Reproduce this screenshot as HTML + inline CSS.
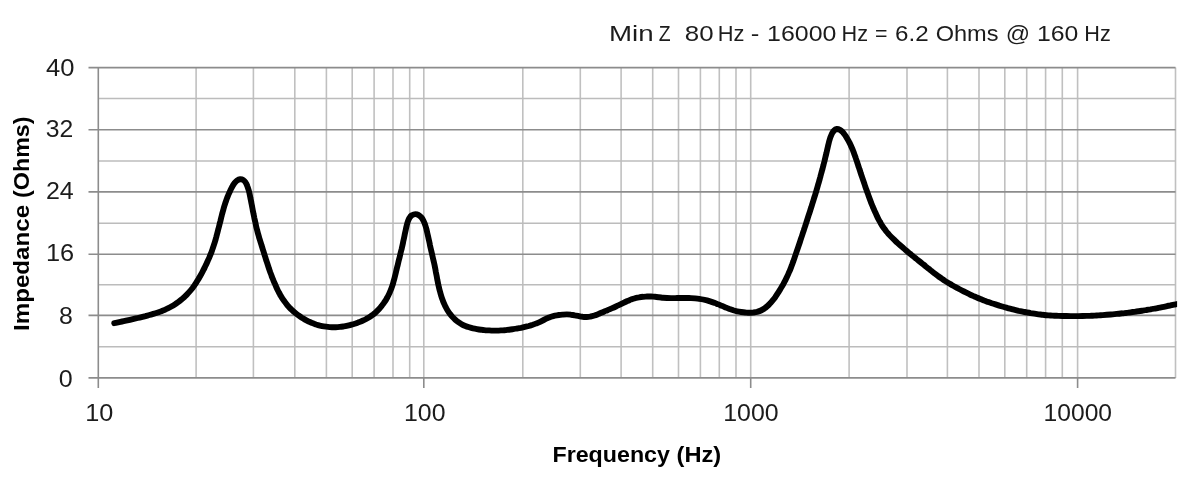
<!DOCTYPE html>
<html lang="en"><head><meta charset="utf-8"><title>Impedance</title>
<style>html,body{margin:0;padding:0;background:#fff}svg{display:block;filter:blur(0.55px)}</style></head>
<body>
<svg width="1204" height="493" viewBox="0 0 1204 493">
<rect width="1204" height="493" fill="#fff"/>
<g stroke="#c0c0c0" stroke-width="1.6" fill="none">
<line x1="196.1" y1="67.5" x2="196.1" y2="378.0"/>
<line x1="253.4" y1="67.5" x2="253.4" y2="378.0"/>
<line x1="294.8" y1="67.5" x2="294.8" y2="378.0"/>
<line x1="326.4" y1="67.5" x2="326.4" y2="378.0"/>
<line x1="352.2" y1="67.5" x2="352.2" y2="378.0"/>
<line x1="374.1" y1="67.5" x2="374.1" y2="378.0"/>
<line x1="393.0" y1="67.5" x2="393.0" y2="378.0"/>
<line x1="409.7" y1="67.5" x2="409.7" y2="378.0"/>
<line x1="423.8" y1="67.5" x2="423.8" y2="378.0"/>
<line x1="522.8" y1="67.5" x2="522.8" y2="378.0"/>
<line x1="580.3" y1="67.5" x2="580.3" y2="378.0"/>
<line x1="621.1" y1="67.5" x2="621.1" y2="378.0"/>
<line x1="652.7" y1="67.5" x2="652.7" y2="378.0"/>
<line x1="678.5" y1="67.5" x2="678.5" y2="378.0"/>
<line x1="700.4" y1="67.5" x2="700.4" y2="378.0"/>
<line x1="719.3" y1="67.5" x2="719.3" y2="378.0"/>
<line x1="736.0" y1="67.5" x2="736.0" y2="378.0"/>
<line x1="750.7" y1="67.5" x2="750.7" y2="378.0"/>
<line x1="849.1" y1="67.5" x2="849.1" y2="378.0"/>
<line x1="907.0" y1="67.5" x2="907.0" y2="378.0"/>
<line x1="947.4" y1="67.5" x2="947.4" y2="378.0"/>
<line x1="979.0" y1="67.5" x2="979.0" y2="378.0"/>
<line x1="1004.8" y1="67.5" x2="1004.8" y2="378.0"/>
<line x1="1026.7" y1="67.5" x2="1026.7" y2="378.0"/>
<line x1="1045.6" y1="67.5" x2="1045.6" y2="378.0"/>
<line x1="1062.3" y1="67.5" x2="1062.3" y2="378.0"/>
<line x1="1077.6" y1="67.5" x2="1077.6" y2="378.0"/>
<line x1="1175.5" y1="67.5" x2="1175.5" y2="378.0"/>
</g>
<g stroke="#bcbcbc" stroke-width="1.5" fill="none">
<line x1="98.3" y1="346.8" x2="1175.5" y2="346.8"/>
<line x1="98.3" y1="284.7" x2="1175.5" y2="284.7"/>
<line x1="98.3" y1="223.3" x2="1175.5" y2="223.3"/>
<line x1="98.3" y1="160.9" x2="1175.5" y2="160.9"/>
<line x1="98.3" y1="98.5" x2="1175.5" y2="98.5"/>
</g>
<g stroke="#8c8c8c" stroke-width="1.6" fill="none">
<line x1="88.5" y1="377.9" x2="1175.5" y2="377.9"/>
<line x1="88.5" y1="315.4" x2="1175.5" y2="315.4"/>
<line x1="88.5" y1="254.3" x2="1175.5" y2="254.3"/>
<line x1="88.5" y1="191.9" x2="1175.5" y2="191.9"/>
<line x1="88.5" y1="129.7" x2="1175.5" y2="129.7"/>
<line x1="88.5" y1="67.6" x2="1175.5" y2="67.6"/>
<line x1="98.3" y1="67.5" x2="98.3" y2="388.0"/>
<line x1="423.8" y1="378.0" x2="423.8" y2="388.0"/>
<line x1="750.7" y1="378.0" x2="750.7" y2="388.0"/>
<line x1="1077.6" y1="378.0" x2="1077.6" y2="388.0"/>
</g>
<clipPath id="pc"><rect x="98.3" y="62.5" width="1078.8" height="320.5"/></clipPath>
<path clip-path="url(#pc)" d="M114.2 323.2C114.9 323.1 116.8 322.7 118.1 322.4C119.4 322.1 120.7 321.8 122.1 321.5C123.4 321.3 124.7 321.0 126.0 320.7C127.3 320.4 128.6 320.1 129.9 319.8C131.2 319.5 132.5 319.2 133.8 318.9C135.1 318.6 136.4 318.3 137.7 318.0C139.0 317.7 140.3 317.4 141.6 317.1C142.9 316.8 144.2 316.4 145.5 316.1C146.8 315.7 148.1 315.4 149.4 315.0C150.7 314.7 152.0 314.3 153.3 313.9C154.6 313.5 155.9 313.1 157.1 312.7C158.4 312.3 159.7 311.9 160.9 311.4C162.2 310.9 163.4 310.4 164.6 309.9C165.9 309.4 167.1 308.8 168.3 308.2C169.5 307.6 170.6 307.0 171.8 306.3C173.0 305.6 174.1 304.9 175.2 304.2C176.3 303.4 177.4 302.7 178.5 301.9C179.6 301.1 180.6 300.2 181.7 299.4C182.7 298.5 183.7 297.6 184.7 296.7C185.6 295.8 186.6 294.8 187.5 293.9C188.4 292.9 189.3 291.9 190.2 290.9C191.1 289.9 191.9 288.8 192.7 287.8C193.5 286.7 194.3 285.6 195.0 284.5C195.8 283.4 196.5 282.3 197.2 281.1C198.0 280.0 198.6 278.8 199.3 277.7C200.0 276.5 200.6 275.3 201.3 274.2C201.9 273.0 202.5 271.8 203.1 270.6C203.8 269.4 204.4 268.2 204.9 267.0C205.5 265.8 206.1 264.6 206.7 263.4C207.2 262.2 207.8 260.9 208.3 259.7C208.9 258.5 209.4 257.3 209.9 256.0C210.4 254.8 210.9 253.5 211.4 252.3C211.8 251.0 212.3 249.8 212.7 248.5C213.2 247.3 213.6 246.0 214.0 244.7C214.4 243.4 214.8 242.2 215.2 240.9C215.6 239.6 215.9 238.3 216.3 237.0C216.6 235.7 217.0 234.4 217.3 233.1C217.7 231.8 218.0 230.5 218.3 229.2C218.7 227.9 219.0 226.6 219.3 225.4C219.6 224.1 219.9 222.7 220.3 221.5C220.6 220.2 220.9 218.9 221.2 217.6C221.5 216.3 221.9 215.0 222.2 213.7C222.6 212.4 222.9 211.1 223.3 209.8C223.6 208.5 224.0 207.2 224.4 205.9C224.8 204.7 225.2 203.4 225.6 202.1C226.1 200.8 226.5 199.6 227.0 198.3C227.5 197.0 228.0 195.8 228.5 194.5C229.0 193.2 229.6 192.0 230.2 190.7C230.8 189.5 231.4 188.2 232.1 187.0C232.7 185.8 233.4 184.6 234.2 183.5C235.0 182.5 235.9 181.3 236.9 180.6C237.9 179.9 239.0 179.3 240.1 179.2C241.1 179.1 242.3 179.4 243.3 180.0C244.2 180.5 245.0 181.5 245.7 182.6C246.4 183.6 246.9 185.0 247.4 186.3C247.9 187.5 248.3 188.9 248.7 190.3C249.1 191.6 249.4 193.0 249.7 194.4C250.0 195.8 250.3 197.1 250.5 198.5C250.8 199.8 251.1 201.2 251.3 202.5C251.6 203.8 251.8 205.2 252.1 206.5C252.3 207.8 252.6 209.1 252.8 210.5C253.1 211.8 253.4 213.1 253.6 214.4C253.9 215.7 254.2 217.0 254.4 218.3C254.7 219.6 255.0 220.9 255.3 222.2C255.6 223.5 255.8 224.8 256.1 226.1C256.4 227.5 256.8 228.8 257.1 230.0C257.4 231.3 257.7 232.6 258.1 233.9C258.5 235.2 258.8 236.5 259.2 237.8C259.6 239.1 260.0 240.3 260.4 241.6C260.8 242.9 261.2 244.2 261.6 245.5C262.0 246.7 262.4 248.0 262.8 249.3C263.2 250.6 263.6 251.8 264.0 253.1C264.4 254.4 264.8 255.7 265.2 256.9C265.6 258.2 266.0 259.5 266.4 260.8C266.8 262.0 267.2 263.3 267.7 264.6C268.1 265.9 268.5 267.1 268.9 268.4C269.4 269.7 269.8 270.9 270.2 272.2C270.7 273.5 271.2 274.7 271.6 276.0C272.1 277.2 272.6 278.5 273.1 279.7C273.6 280.9 274.1 282.2 274.7 283.4C275.2 284.6 275.7 285.9 276.3 287.1C276.9 288.3 277.4 289.5 278.0 290.7C278.6 291.9 279.3 293.1 279.9 294.3C280.6 295.4 281.2 296.6 281.9 297.7C282.6 298.9 283.4 300.0 284.2 301.1C284.9 302.1 285.7 303.2 286.6 304.2C287.4 305.3 288.3 306.3 289.2 307.3C290.1 308.2 291.1 309.2 292.1 310.1C293.0 311.0 294.0 311.9 295.1 312.8C296.1 313.6 297.2 314.4 298.2 315.2C299.3 316.0 300.4 316.8 301.5 317.5C302.7 318.2 303.8 318.9 305.0 319.6C306.2 320.3 307.3 320.9 308.6 321.5C309.8 322.0 311.0 322.6 312.2 323.1C313.5 323.6 314.7 324.0 316.0 324.5C317.3 324.9 318.6 325.2 319.9 325.6C321.2 325.9 322.5 326.2 323.8 326.4C325.1 326.6 326.4 326.8 327.8 326.9C329.1 327.1 330.4 327.2 331.8 327.2C333.1 327.3 334.4 327.3 335.8 327.2C337.1 327.2 338.4 327.1 339.8 326.9C341.1 326.8 342.4 326.6 343.8 326.4C345.1 326.2 346.4 325.9 347.7 325.6C349.0 325.3 350.3 325.0 351.6 324.6C352.9 324.3 354.2 323.9 355.5 323.5C356.7 323.0 358.0 322.6 359.3 322.1C360.5 321.6 361.7 321.1 363.0 320.5C364.2 320.0 365.4 319.4 366.6 318.7C367.7 318.1 368.9 317.4 370.0 316.7C371.1 316.0 372.2 315.2 373.3 314.4C374.3 313.6 375.4 312.7 376.3 311.8C377.3 310.9 378.2 310.0 379.1 309.0C380.0 308.0 380.9 306.9 381.7 305.9C382.5 304.8 383.3 303.8 384.1 302.6C384.9 301.5 385.6 300.4 386.3 299.3C386.9 298.1 387.6 296.9 388.2 295.7C388.8 294.5 389.4 293.3 389.9 292.1C390.4 290.9 390.9 289.6 391.4 288.4C391.8 287.1 392.3 285.9 392.7 284.6C393.1 283.3 393.4 282.0 393.8 280.7C394.2 279.4 394.5 278.1 394.8 276.8C395.2 275.5 395.5 274.2 395.8 272.9C396.1 271.6 396.4 270.3 396.7 269.0C397.0 267.7 397.3 266.4 397.7 265.1C398.0 263.8 398.3 262.5 398.6 261.2C398.9 259.9 399.2 258.6 399.6 257.3C399.9 256.0 400.2 254.7 400.5 253.4C400.8 252.1 401.1 250.8 401.5 249.5C401.8 248.2 402.1 246.9 402.4 245.6C402.7 244.3 403.0 243.0 403.2 241.7C403.5 240.4 403.8 239.1 404.1 237.7C404.4 236.4 404.6 235.1 404.9 233.7C405.2 232.4 405.5 231.0 405.8 229.7C406.0 228.3 406.3 227.0 406.7 225.6C407.0 224.3 407.4 222.9 407.8 221.6C408.3 220.4 408.8 219.1 409.4 218.0C410.1 216.9 411.0 215.9 411.9 215.2C412.9 214.6 414.1 214.1 415.3 214.1C416.4 214.1 417.7 214.5 418.7 215.1C419.8 215.7 420.8 216.7 421.6 217.7C422.4 218.7 423.1 220.0 423.7 221.2C424.3 222.4 424.7 223.7 425.2 225.0C425.6 226.3 426.0 227.6 426.4 229.0C426.7 230.3 427.0 231.6 427.3 233.0C427.6 234.3 427.9 235.6 428.2 236.9C428.5 238.3 428.8 239.6 429.1 240.9C429.4 242.2 429.7 243.5 429.9 244.8C430.2 246.2 430.5 247.5 430.8 248.8C431.1 250.1 431.4 251.4 431.7 252.7C432.0 254.0 432.3 255.3 432.6 256.6C432.9 257.9 433.2 259.2 433.5 260.5C433.8 261.8 434.1 263.1 434.4 264.4C434.7 265.7 434.9 267.0 435.2 268.3C435.4 269.6 435.7 271.0 435.9 272.3C436.2 273.6 436.4 274.9 436.7 276.2C436.9 277.5 437.2 278.9 437.4 280.2C437.7 281.5 437.9 282.8 438.2 284.1C438.5 285.4 438.8 286.7 439.1 288.0C439.4 289.3 439.7 290.7 440.1 291.9C440.4 293.2 440.8 294.5 441.2 295.8C441.6 297.1 442.0 298.4 442.5 299.6C442.9 300.9 443.4 302.1 444.0 303.4C444.5 304.6 445.0 305.8 445.7 307.0C446.3 308.2 446.9 309.4 447.6 310.5C448.3 311.6 449.1 312.8 449.9 313.8C450.7 314.9 451.5 315.9 452.4 316.9C453.3 317.9 454.3 318.8 455.3 319.7C456.3 320.6 457.3 321.4 458.4 322.2C459.5 323.0 460.6 323.7 461.8 324.3C462.9 324.9 464.2 325.5 465.4 326.0C466.6 326.5 467.9 326.9 469.2 327.3C470.4 327.7 471.7 328.1 473.0 328.4C474.4 328.7 475.7 328.9 477.0 329.1C478.3 329.4 479.7 329.6 481.0 329.7C482.3 329.9 483.7 330.0 485.0 330.2C486.3 330.3 487.7 330.4 489.0 330.4C490.4 330.5 491.7 330.6 493.0 330.6C494.4 330.6 495.7 330.6 497.1 330.6C498.4 330.6 499.7 330.5 501.1 330.4C502.4 330.4 503.7 330.3 505.1 330.2C506.4 330.0 507.7 329.9 509.1 329.7C510.4 329.6 511.7 329.4 513.1 329.2C514.4 329.0 515.7 328.8 517.0 328.5C518.4 328.3 519.7 328.0 521.0 327.8C522.3 327.5 523.6 327.2 524.9 326.9C526.2 326.6 527.5 326.3 528.8 326.0C530.1 325.6 531.4 325.2 532.7 324.8C533.9 324.4 535.2 323.9 536.4 323.4C537.7 322.9 538.9 322.4 540.1 321.8C541.3 321.2 542.5 320.6 543.7 320.0C544.9 319.4 546.1 318.8 547.3 318.2C548.5 317.7 549.8 317.1 551.0 316.7C552.3 316.3 553.6 315.9 554.9 315.6C556.2 315.4 557.5 315.2 558.8 315.0C560.1 314.8 561.5 314.7 562.8 314.6C564.2 314.5 565.5 314.4 566.8 314.4C568.2 314.4 569.5 314.5 570.8 314.7C572.2 314.8 573.5 315.0 574.8 315.3C576.1 315.5 577.4 315.8 578.8 316.1C580.1 316.4 581.4 316.7 582.7 316.8C584.0 317.0 585.4 317.1 586.7 317.0C588.0 317.0 589.3 316.8 590.6 316.5C591.9 316.3 593.2 315.9 594.5 315.5C595.8 315.1 597.0 314.6 598.3 314.1C599.5 313.6 600.8 313.0 602.0 312.5C603.2 312.0 604.5 311.4 605.7 310.9C606.9 310.4 608.2 309.9 609.4 309.4C610.6 308.8 611.9 308.3 613.1 307.8C614.3 307.2 615.5 306.7 616.7 306.1C618.0 305.6 619.2 305.0 620.4 304.4C621.6 303.8 622.8 303.2 624.0 302.6C625.2 302.0 626.4 301.5 627.6 300.9C628.8 300.4 630.1 299.9 631.3 299.4C632.6 299.0 633.9 298.6 635.2 298.2C636.5 297.9 637.8 297.6 639.1 297.4C640.4 297.1 641.7 296.9 643.1 296.8C644.4 296.6 645.7 296.6 647.1 296.5C648.4 296.5 649.7 296.5 651.1 296.5C652.4 296.6 653.8 296.7 655.1 296.8C656.4 296.9 657.7 297.1 659.1 297.3C660.4 297.4 661.7 297.6 663.1 297.7C664.4 297.8 665.7 297.9 667.1 298.0C668.4 298.1 669.7 298.1 671.1 298.1C672.4 298.1 673.8 298.1 675.1 298.1C676.4 298.1 677.8 298.0 679.1 298.0C680.4 298.0 681.8 298.0 683.1 298.0C684.5 298.0 685.8 298.0 687.1 298.0C688.5 298.0 689.8 298.1 691.2 298.1C692.5 298.2 693.8 298.3 695.2 298.4C696.5 298.5 697.8 298.6 699.2 298.8C700.5 299.0 701.8 299.2 703.1 299.5C704.4 299.8 705.7 300.1 707.0 300.4C708.3 300.8 709.6 301.2 710.9 301.6C712.1 302.0 713.4 302.5 714.7 302.9C715.9 303.4 717.2 303.9 718.4 304.4C719.6 304.9 720.9 305.4 722.1 305.9C723.3 306.5 724.6 307.0 725.8 307.5C727.1 308.0 728.3 308.5 729.5 309.0C730.8 309.4 732.1 309.9 733.3 310.3C734.6 310.7 735.9 311.0 737.2 311.3C738.5 311.6 739.8 311.8 741.2 312.0C742.5 312.2 743.8 312.4 745.2 312.5C746.5 312.6 747.8 312.8 749.2 312.8C750.5 312.8 751.9 312.7 753.2 312.6C754.5 312.4 755.9 312.2 757.1 311.9C758.4 311.5 759.7 311.1 760.9 310.5C762.1 309.9 763.3 309.3 764.4 308.5C765.5 307.8 766.5 306.9 767.5 306.0C768.5 305.1 769.4 304.1 770.3 303.2C771.2 302.2 772.1 301.1 772.9 300.1C773.8 299.0 774.6 298.0 775.4 296.9C776.1 295.8 776.9 294.7 777.6 293.5C778.4 292.4 779.1 291.3 779.8 290.1C780.5 289.0 781.2 287.8 781.8 286.7C782.5 285.5 783.2 284.4 783.8 283.2C784.4 282.0 785.1 280.8 785.7 279.6C786.3 278.4 786.8 277.2 787.4 276.0C788.0 274.8 788.5 273.6 789.0 272.3C789.6 271.1 790.1 269.9 790.6 268.6C791.1 267.4 791.5 266.1 792.0 264.9C792.5 263.6 792.9 262.4 793.4 261.1C793.8 259.8 794.3 258.6 794.7 257.3C795.1 256.1 795.6 254.8 796.0 253.5C796.4 252.3 796.9 251.0 797.3 249.7C797.7 248.5 798.2 247.2 798.6 245.9C799.0 244.6 799.4 243.4 799.9 242.1C800.3 240.8 800.7 239.6 801.1 238.3C801.6 237.0 802.0 235.8 802.4 234.5C802.8 233.2 803.2 231.9 803.7 230.7C804.1 229.4 804.5 228.1 804.9 226.9C805.3 225.6 805.8 224.3 806.2 223.0C806.6 221.8 807.0 220.5 807.4 219.2C807.8 218.0 808.2 216.7 808.6 215.4C809.0 214.1 809.4 212.9 809.9 211.6C810.3 210.3 810.7 209.0 811.1 207.8C811.5 206.5 811.9 205.2 812.3 203.9C812.7 202.7 813.1 201.4 813.5 200.1C813.9 198.8 814.3 197.5 814.7 196.3C815.1 195.0 815.5 193.7 815.9 192.4C816.3 191.1 816.6 189.9 817.0 188.6C817.4 187.3 817.8 186.0 818.1 184.7C818.5 183.4 818.9 182.2 819.2 180.9C819.6 179.6 819.9 178.3 820.3 177.0C820.6 175.7 821.0 174.4 821.3 173.1C821.7 171.8 822.0 170.5 822.4 169.3C822.7 168.0 823.0 166.7 823.4 165.4C823.7 164.1 824.0 162.8 824.4 161.5C824.7 160.2 825.0 158.9 825.3 157.6C825.6 156.3 825.9 155.0 826.3 153.6C826.6 152.3 826.9 151.0 827.2 149.6C827.5 148.3 827.8 147.0 828.1 145.6C828.5 144.2 828.8 142.9 829.1 141.5C829.5 140.2 829.9 138.8 830.3 137.5C830.8 136.2 831.3 134.9 831.9 133.7C832.5 132.6 833.2 131.4 834.0 130.6C834.8 129.8 835.9 129.2 836.9 129.0C837.9 128.9 839.0 129.3 840.0 129.8C841.1 130.4 842.0 131.3 842.9 132.3C843.8 133.3 844.6 134.5 845.4 135.6C846.2 136.8 846.9 138.0 847.6 139.2C848.3 140.4 849.0 141.6 849.6 142.9C850.2 144.1 850.8 145.3 851.3 146.6C851.9 147.8 852.4 149.1 852.9 150.3C853.4 151.6 853.9 152.8 854.3 154.1C854.8 155.3 855.3 156.6 855.7 157.9C856.1 159.1 856.5 160.4 857.0 161.7C857.4 162.9 857.8 164.2 858.2 165.5C858.6 166.7 859.1 168.0 859.5 169.3C859.9 170.5 860.3 171.8 860.7 173.1C861.2 174.4 861.6 175.6 862.0 176.9C862.4 178.2 862.9 179.4 863.3 180.7C863.7 182.0 864.2 183.2 864.6 184.5C865.0 185.8 865.5 187.0 865.9 188.3C866.4 189.5 866.8 190.8 867.3 192.1C867.7 193.3 868.2 194.6 868.6 195.9C869.1 197.1 869.5 198.4 870.0 199.6C870.5 200.9 870.9 202.1 871.4 203.4C871.9 204.6 872.4 205.9 872.9 207.1C873.5 208.3 874.0 209.6 874.5 210.8C875.1 212.0 875.6 213.2 876.2 214.4C876.8 215.7 877.3 216.9 877.9 218.1C878.5 219.3 879.2 220.5 879.8 221.6C880.5 222.8 881.1 224.0 881.8 225.1C882.5 226.2 883.3 227.3 884.1 228.4C884.8 229.5 885.7 230.6 886.5 231.6C887.4 232.6 888.2 233.6 889.1 234.6C890.0 235.6 891.0 236.6 891.9 237.5C892.9 238.5 893.8 239.4 894.8 240.3C895.8 241.3 896.7 242.2 897.7 243.1C898.7 244.0 899.7 244.9 900.7 245.8C901.7 246.7 902.7 247.5 903.7 248.4C904.7 249.3 905.8 250.1 906.8 251.0C907.8 251.9 908.8 252.7 909.9 253.6C910.9 254.4 911.9 255.3 913.0 256.1C914.0 257.0 915.1 257.8 916.1 258.6C917.1 259.5 918.2 260.3 919.2 261.1C920.3 262.0 921.3 262.8 922.4 263.7C923.4 264.5 924.5 265.3 925.5 266.2C926.5 267.0 927.6 267.9 928.6 268.7C929.7 269.5 930.7 270.4 931.8 271.2C932.8 272.0 933.9 272.9 934.9 273.7C936.0 274.5 937.1 275.3 938.2 276.1C939.2 276.9 940.3 277.6 941.4 278.4C942.5 279.2 943.6 279.9 944.7 280.7C945.9 281.4 947.0 282.1 948.1 282.8C949.3 283.5 950.4 284.2 951.6 284.9C952.7 285.5 953.9 286.2 955.1 286.8C956.2 287.5 957.4 288.1 958.6 288.7C959.8 289.4 961.0 290.0 962.2 290.6C963.4 291.2 964.6 291.8 965.8 292.4C967.0 293.0 968.2 293.6 969.4 294.2C970.6 294.7 971.8 295.3 973.0 295.9C974.2 296.4 975.4 297.0 976.7 297.5C977.9 298.0 979.1 298.5 980.4 299.0C981.6 299.5 982.9 300.0 984.1 300.5C985.4 301.0 986.6 301.4 987.9 301.9C989.2 302.3 990.4 302.7 991.7 303.2C993.0 303.6 994.2 304.0 995.5 304.4C996.8 304.8 998.1 305.2 999.3 305.6C1000.6 306.0 1001.9 306.4 1003.2 306.8C1004.5 307.2 1005.8 307.5 1007.1 307.9C1008.3 308.2 1009.6 308.6 1010.9 308.9C1012.2 309.2 1013.5 309.6 1014.8 309.9C1016.1 310.2 1017.4 310.5 1018.7 310.8C1020.1 311.0 1021.4 311.3 1022.7 311.6C1024.0 311.9 1025.3 312.1 1026.6 312.4C1027.9 312.6 1029.3 312.8 1030.6 313.1C1031.9 313.3 1033.2 313.5 1034.5 313.7C1035.9 313.9 1037.2 314.1 1038.5 314.3C1039.8 314.5 1041.2 314.6 1042.5 314.8C1043.8 314.9 1045.2 315.1 1046.5 315.2C1047.8 315.3 1049.2 315.4 1050.5 315.5C1051.8 315.6 1053.2 315.6 1054.5 315.7C1055.8 315.8 1057.2 315.8 1058.5 315.9C1059.8 315.9 1061.2 315.9 1062.5 316.0C1063.9 316.0 1065.2 316.0 1066.5 316.0C1067.9 316.1 1069.2 316.1 1070.6 316.1C1071.9 316.1 1073.2 316.1 1074.6 316.1C1075.9 316.1 1077.2 316.1 1078.6 316.1C1079.9 316.1 1081.3 316.1 1082.6 316.0C1083.9 316.0 1085.3 316.0 1086.6 315.9C1088.0 315.9 1089.3 315.8 1090.6 315.8C1092.0 315.7 1093.3 315.7 1094.6 315.6C1096.0 315.5 1097.3 315.5 1098.6 315.4C1100.0 315.3 1101.3 315.2 1102.7 315.1C1104.0 315.0 1105.3 314.9 1106.7 314.8C1108.0 314.7 1109.3 314.6 1110.7 314.5C1112.0 314.4 1113.3 314.2 1114.7 314.1C1116.0 314.0 1117.3 313.8 1118.7 313.7C1120.0 313.6 1121.3 313.4 1122.6 313.3C1124.0 313.1 1125.3 313.0 1126.6 312.8C1128.0 312.6 1129.3 312.5 1130.6 312.3C1131.9 312.1 1133.3 312.0 1134.6 311.8C1135.9 311.6 1137.3 311.4 1138.6 311.2C1139.9 311.1 1141.2 310.9 1142.6 310.7C1143.9 310.5 1145.2 310.3 1146.5 310.0C1147.8 309.8 1149.2 309.6 1150.5 309.4C1151.8 309.1 1153.1 308.9 1154.4 308.7C1155.7 308.4 1157.1 308.2 1158.4 307.9C1159.7 307.7 1161.0 307.4 1162.3 307.1C1163.6 306.9 1164.9 306.6 1166.2 306.3C1167.5 306.0 1168.9 305.7 1170.2 305.5C1171.5 305.2 1172.8 304.9 1174.1 304.6C1175.4 304.3 1177.4 303.9 1178.0 303.7" fill="none" stroke="#000" stroke-width="5.9" stroke-linejoin="round" stroke-linecap="round"/>
<g font-family="'Liberation Sans', sans-serif" font-size="23.4" fill="#1c1c1c">
<text x="608.95" y="41.0" font-size="22.7" textLength="44.64" lengthAdjust="spacingAndGlyphs">Min</text>
<text x="658.82" y="41.0" font-size="22.7" textLength="11.86" lengthAdjust="spacingAndGlyphs">Z</text>
<text x="684.89" y="41.0" font-size="22.7" textLength="28.82" lengthAdjust="spacingAndGlyphs">80</text>
<text x="717.83" y="41.0" font-size="22.7" textLength="26.70" lengthAdjust="spacingAndGlyphs">Hz</text>
<text x="750.80" y="41.0" font-size="22.7" textLength="8.60" lengthAdjust="spacingAndGlyphs">-</text>
<text x="767.09" y="41.0" font-size="22.7" textLength="69.28" lengthAdjust="spacingAndGlyphs">16000</text>
<text x="841.54" y="41.0" font-size="22.7" textLength="26.48" lengthAdjust="spacingAndGlyphs">Hz</text>
<text x="875.00" y="41.0" font-size="22.7" textLength="12.48" lengthAdjust="spacingAndGlyphs">=</text>
<text x="895.06" y="41.0" font-size="22.7" textLength="33.59" lengthAdjust="spacingAndGlyphs">6.2</text>
<text x="935.69" y="41.0" font-size="22.7" textLength="62.81" lengthAdjust="spacingAndGlyphs">Ohms</text>
<text x="1005.65" y="41.0" font-size="22.7" textLength="24.35" lengthAdjust="spacingAndGlyphs">@</text>
<text x="1037.00" y="41.0" font-size="22.7" textLength="41.37" lengthAdjust="spacingAndGlyphs">160</text>
<text x="1084.24" y="41.0" font-size="22.7" textLength="26.48" lengthAdjust="spacingAndGlyphs">Hz</text>
<text x="45.95" y="76.3" textLength="28.45" lengthAdjust="spacingAndGlyphs">40</text>
<text x="45.65" y="136.8" textLength="27.52" lengthAdjust="spacingAndGlyphs">32</text>
<text x="45.92" y="198.8" textLength="27.83" lengthAdjust="spacingAndGlyphs">24</text>
<text x="45.96" y="261.4" textLength="28.25" lengthAdjust="spacingAndGlyphs">16</text>
<text x="59.04" y="324.3" textLength="13.84" lengthAdjust="spacingAndGlyphs">8</text>
<text x="58.84" y="386.8" textLength="13.94" lengthAdjust="spacingAndGlyphs">0</text>
<text x="85.26" y="421.2" textLength="28.12" lengthAdjust="spacingAndGlyphs">10</text>
<text x="403.99" y="421.2" textLength="41.48" lengthAdjust="spacingAndGlyphs">100</text>
<text x="723.29" y="421.2" textLength="55.38" lengthAdjust="spacingAndGlyphs">1000</text>
<text x="1043.61" y="421.2" textLength="68.45" lengthAdjust="spacingAndGlyphs">10000</text>
</g>
<g font-family="'Liberation Sans', sans-serif" font-size="22.6" font-weight="bold" fill="#000">
<text x="552.46" y="462.1" textLength="117.51" lengthAdjust="spacingAndGlyphs">Frequency</text>
<text x="676.55" y="462.1" textLength="44.63" lengthAdjust="spacingAndGlyphs">(Hz)</text>
<text transform="translate(29.3 329.4) rotate(-90)" x="-1.60" y="0" textLength="126.12" lengthAdjust="spacingAndGlyphs">Impedance</text>
<text transform="translate(29.3 329.4) rotate(-90)" x="131.47" y="0" textLength="81.49" lengthAdjust="spacingAndGlyphs">(Ohms)</text>
</g>
</svg>
</body></html>
